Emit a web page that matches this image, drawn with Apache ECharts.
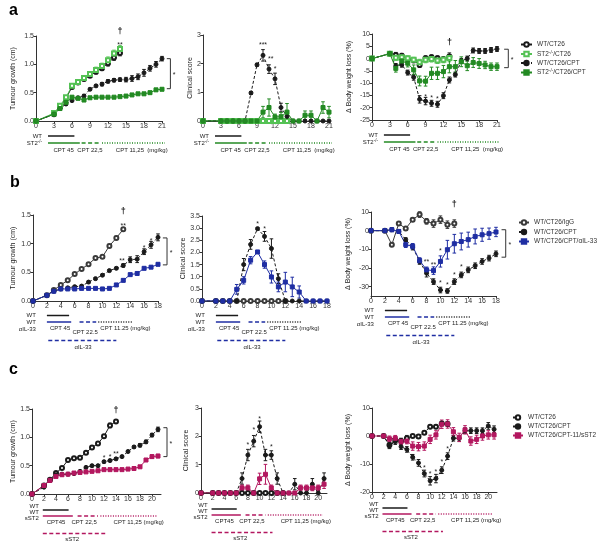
<!DOCTYPE html>
<html><head><meta charset="utf-8">
<script src="https://cdn.jsdelivr.net/npm/echarts@6/dist/echarts.min.js"></script>
<style>html,body{margin:0;padding:0;background:#fff}#c{width:600px;height:555px}</style>
</head><body><div id="c"></div><script>
const FONT = '"Liberation Sans", Arial, sans-serif';
const BLACK = '#1a1a1a', GREY = '#3a3a3a', LGREEN = '#55c255', DGREEN = '#238a23', BLUE = '#1f2ea3', MAG = '#b3175f';

// ---------- days ----------
const daysA = [0,3,4,5,6,7,8,9,10,11,12,13,14,15,16,17,18,19,20,21];
const daysB = [0,2,3,4,5,6,7,8,9,10,11,12,13,14,15,16,17,18];
const daysC = [0,2,3,4,5,6,7,8,9,10,11,12,13,14,15,16,17,18,19,20,21];

// ---------- panel a ----------
const a1_WT      = [0,0.12,0.25,0.4,0.6,0.68,0.74,0.8,0.87,0.93,1.02,1.12,1.2];
const a1_WT_e    = [0,0.02,0.02,0.03,0.03,0.03,0.03,0.03,0.04,0.04,0.05,0.05,0.05];
const a1_ST2     = [0,0.14,0.27,0.42,0.62,0.69,0.76,0.83,0.9,0.97,1.07,1.19,1.27];
const a1_ST2_e   = [0,0.02,0.02,0.03,0.04,0.04,0.04,0.04,0.05,0.05,0.06,0.06,0.06];
const a1_WTCPT   = [0,0.12,0.22,0.3,0.36,0.41,0.44,0.56,0.62,0.65,0.7,0.72,0.73,0.73,0.75,0.78,0.85,0.93,1.0,1.1];
const a1_WTCPT_e = [0,0.01,0.02,0.02,0.02,0.02,0.03,0.02,0.02,0.03,0.03,0.03,0.03,0.04,0.05,0.05,0.06,0.05,0.05,0.04];
const a1_ST2CPT  = [0,0.12,0.22,0.33,0.42,0.4,0.37,0.41,0.42,0.42,0.42,0.42,0.43,0.44,0.46,0.48,0.48,0.5,0.55,0.56];
const a1_ST2CPT_e= [0,0.01,0.01,0.02,0.02,0.02,0.02,0.02,0.02,0.01,0.01,0.01,0.01,0.02,0.02,0.02,0.02,0.02,0.02,0.02];

const a2_WT      = [0,0,0,0,0,0,0,0,0,0,0,0,0];
const a2_ST2     = [0,0,0,0,0,0,0,0,0,0,0,0,0];
const a2_WTCPT   = [0,0,0,0,0,0,0.98,1.96,2.29,1.81,1.47,0.47,0.16,0,0,0,0,0,0,0];
const a2_WTCPT_e = [0,0,0,0,0,0,0.05,0.05,0.2,0.15,0.2,0.15,0.1,0,0,0,0,0,0,0];
const a2_ST2CPT  = [0,0,0,0,0,0,0,0,0.31,0.47,0.14,0.15,0.31,0,0,0.2,0.2,0,0.47,0.31];
const a2_ST2CPT_e= [0,0,0,0,0,0,0,0,0.2,0.3,0.1,0.15,0.3,0,0,0.15,0.15,0,0.2,0.2];

const a3_WT      = [0,2,1.5,1.1,-0.3,-0.7,-2.6,0.1,0.5,0.1,-0.3,0.8];
const a3_WT_e    = [0,0.5,1,1,1,1,1,1,1,1,1,1.5];
const a3_ST2     = [0,2,0.3,0.5,0.1,-0.5,-1.5,-0.5,-0.2,-0.8,-0.5,0.2];
const a3_ST2_e   = [0,0.5,1,1,1,1,1.2,1.2,1.2,1.2,1.2,1.5];
const a3_WTCPT   = [0,2,-3,-2.5,-5.7,-7.6,-16.6,-17.3,-18.2,-18.6,-15.1,-8.7,-6.5,-1,0,3.3,3.1,3.1,3.5,3.9];
const a3_WTCPT_e = [0,0.5,1,1,1,1.2,1.5,1.5,1.2,1.2,1.2,1.2,1,1,1,1,1,1,1,1];
const a3_ST2CPT  = [0,2,-4,-1,-1.9,-4.6,-9.1,-9.2,-6,-6,-5.3,-3.3,-3.3,-1.3,-2.9,-1.6,-2,-2.6,-3.3,-3.3];
const a3_ST2CPT_e= [0,0.5,1.5,1.5,1.5,2,2,2,2.5,2.5,2.5,2.5,2.5,2,2,2,2,1.5,1.5,1.5];

// ---------- panel b ----------
const b1_IgG     = [0,0.1,0.19,0.28,0.36,0.47,0.56,0.64,0.75,0.77,0.96,1.1,1.25];
const b1_IgG_e   = [0,0.01,0.02,0.02,0.02,0.02,0.02,0.02,0.02,0.02,0.03,0.03,0.03];
const b1_CPT     = [0,0.1,0.17,0.21,0.23,0.25,0.26,0.33,0.39,0.45,0.53,0.57,0.62,0.72,0.73,0.86,0.98,1.11];
const b1_CPT_e   = [0,0.01,0.01,0.01,0.02,0.02,0.02,0.02,0.02,0.02,0.02,0.02,0.03,0.05,0.06,0.05,0.06,0.06];
const b1_IL33    = [0,0.1,0.17,0.21,0.21,0.21,0.22,0.22,0.22,0.21,0.22,0.28,0.36,0.46,0.48,0.57,0.59,0.64];
const b1_IL33_e  = [0,0.01,0.01,0.01,0.01,0.01,0.01,0.01,0.01,0.01,0.01,0.02,0.02,0.02,0.02,0.02,0.02,0.02];

const b2_IgG     = [0,0,0,0,0,0,0,0,0,0,0,0];
const b2_CPT     = [0,0,0,0,0,1.5,2.33,2.98,2.66,2.16,0.92,0,0,0,0,0,0,0];
const b2_CPT_e   = [0,0,0,0,0,0.25,0.2,0.05,0.2,0.4,0.2,0,0,0,0,0,0,0];
const b2_IL33    = [0,0,0,0,0.48,0.85,1.68,2.02,1.5,0.99,0.58,0.78,0.58,0.37,0,0,0,0];
const b2_IL33_e  = [0,0,0,0,0.2,0.15,0.15,0.05,0.15,0.25,0.2,0.4,0.4,0.25,0,0,0,0];

const b3_IgG     = [0,0,-7.5,3.8,1.1,5.9,8.6,5,3.8,5.9,3.2,3.8];
const b3_IgG_e   = [0,0,1,1,1,1,1.5,1.5,2,2,2,2];
const b3_CPT     = [0,0,0.5,-0.4,-4.8,-8.8,-16.5,-22.8,-27.3,-31.8,-32.3,-27.3,-23.7,-21,-18.8,-16.5,-14.7,-12.4];
const b3_CPT_e   = [0,0,1,1,1,1.5,1.5,2,1.5,1.5,1.2,1.5,1.5,1.5,1.5,1.5,1.5,1.5];
const b3_IL33    = [0,0,0.5,-0.4,-7.5,-8.4,-16,-21,-21.4,-16.5,-10.2,-7,-5.8,-4.8,-3.1,-2.2,-1.6,-0.7];
const b3_IL33_e  = [0,0,1,1,1.5,1.5,1.5,1.5,2,3,5,5,4.5,4,4,3.5,3,2.5];

// ---------- panel c ----------
const c1_WT      = [0,0.15,0.25,0.37,0.46,0.6,0.63,0.64,0.73,0.82,0.89,1.02,1.21,1.28];
const c1_WT_e    = [0,0.02,0.02,0.02,0.02,0.02,0.02,0.02,0.02,0.02,0.03,0.03,0.04,0.03];
const c1_CPT     = [0,0.12,0.24,0.34,0.35,0.35,0.36,0.4,0.47,0.5,0.5,0.57,0.59,0.62,0.66,0.75,0.83,0.86,0.92,1.04,1.14];
const c1_CPT_e   = [0,0.01,0.01,0.01,0.01,0.01,0.01,0.01,0.01,0.02,0.02,0.02,0.02,0.02,0.02,0.02,0.02,0.03,0.03,0.03,0.04];
const c1_sST2    = [0,0.15,0.24,0.31,0.34,0.35,0.37,0.38,0.39,0.4,0.41,0.43,0.43,0.43,0.43,0.44,0.45,0.48,0.6,0.66,0.67];
const c1_sST2_e  = [0,0.01,0.01,0.01,0.01,0.01,0.01,0.01,0.01,0.01,0.01,0.01,0.01,0.01,0.01,0.01,0.01,0.02,0.02,0.03,0.03];

const c2_WT      = [0,0,0,0,0,0,0,0,0,0,0,0,0,0];
const c2_CPT     = [0,0,0,0,0,0,0.51,1.34,1.83,2.34,1.34,1.34,0.51,0,0,0.31,0,0,0.31,0,0.51];
const c2_CPT_e   = [0,0,0,0,0,0,0.2,0.2,0.2,0.2,0.2,0.15,0.2,0,0,0.2,0,0,0.2,0,0.2];
const c2_sST2    = [0,0,0,0,0,0,0.18,0.18,0,0.5,0.66,0.18,0,0,0,0,0.18,0.18,0.18,0.18,0.31];
const c2_sST2_e  = [0,0,0,0,0,0,0.1,0.1,0,0.2,0.35,0.1,0,0,0,0,0.1,0.1,0.1,0.1,0.15];

const c3_WT      = [0,0,-3.2,-1.4,-1.8,-0.8,0,-0.2,1.2,3.3,3.3,4.5,4.3];
const c3_WT_e    = [0,0,1,1,1,1,0.5,0.5,0.5,0.5,0.5,0.5,0.8];
const c3_CPT     = [0,0,-3.5,-2,-3.8,-4.8,-7.6,-9.6,-13.4,-16,-15.2,-12.2,-7.2,-0.8,-0.8,1.9,1.9,1.9,1.9,3.6,2.4];
const c3_CPT_e   = [0,0,1,1,1,1,1,1.2,1.2,1.5,1.5,1.2,1.2,1,1,1,1,1,1,1.2,1.2];
const c3_sST2    = [0,0,-1,-0.8,-2,-1.8,-3.6,-3.8,-3.6,-1.2,0.4,4.2,4.3,1.5,-0.5,2.2,-1.8,-1.2,0,0.4,0.4];
const c3_sST2_e  = [0,0,1,1,1,1,1.5,1.5,1.5,1.5,1.5,1.5,1.5,1.5,1.5,1.5,1.5,1.5,1.5,1.5,1.5];

// ---------- ticks ----------
const xTicksA = [0,3,6,9,12,15,18,21];
const xTicksB = [0,2,4,6,8,10,12,14,16,18];
const xTicksC = [0,2,4,6,8,10,12,14,16,18,20];
const yTicksTumour = [0,0.5,1,1.5];
const yTicksScore3 = [0,1,2,3];
const yTicksScoreB = [0,0.5,1,1.5,2,2.5,3,3.5];
const yTicksBWA = [-25,-20,-15,-10,-5,0,5,10];
const yTicksBWB = [-30,-20,-10,0,10];
const yTicksBWC = [-20,-10,0,10];

// ---------- treatment schedules (days) ----------
const schedA_WT = [2, 6.4];
const schedA_KO = [[2,7.3],[7.6,10.8],[11,21.5]];
const schedA_dose = [['CPT 45',4.6],['CPT 22,5',9],['CPT 11,25  (mg/kg)',13.3]];
const schedB_WT = [2, 5.2];
const schedB_Ab = [[2,5.5],[6.7,9.1],[9.4,14.4]];
const schedB_dose = [['CPT 45',3.9],['CPT 22.5',7.5],['CPT 11.25 (mg/kg)',9.7]];
const schedB_IL33 = [2.2, 12, 7.2];
const schedC_WT = [1.8, 6.1];
const schedC_s = [[1.8,6.8],[7.6,11],[11.4,20.8]];
const schedC_dose = [['CPT45',4],['CPT 22,5',8.7],['CPT 11,25 (mg/kg)',13.6]];
const schedC_sST2 = [1.8, 12.2, 6.7];

// ---------- significance marks [day, value, text] ----------
const starsA1 = [[14,1.575,'†'],[14,1.38,'**']];
const starsA2 = [[10,2.71,'***'],[11.3,2.22,'**'],[12,1.89,'*']];
const starsA3 = [[13,6.5,'†'],[9,-14.8,'*'],[10,-15.5,'*'],[11,-15.8,'*']];
const starsB1 = [[13,1.56,'†'],[13,1.34,'**'],[12.8,0.73,'**'],[16,0.95,'*'],[17,1.08,'*']];
const starsB2 = [[8,3.25,'*'],[9,3.05,'*']];
const starsB3 = [[12,14,'†'],[10,-9.7,'*'],[8,-16,'**'],[9,-17.3,'**'],[10,-27.2,'*'],[11,-28.3,'*'],[12,-22.8,'*'],[13,-18.8,'*']];
const starsC1 = [[14,1.48,'†'],[12,0.66,'*'],[13,0.69,'*'],[14,0.73,'**']];
const starsC2 = [[8,1.75,'*'],[9,2.28,'*'],[10,2.69,'*'],[12,1.69,'*']];
const starsC3 = [[9,-10.7,'*'],[10,-12.8,'*'],[11,-12.2,'*'],[12,-8.7,'*'],[13,-4.2,'*']];
// brackets [dayFrom, dayTo, valueTop, valueBottom, starDay]
const brA1 = [21.8,22.4,1.1,0.57,22.8];
const brA3 = [22.2,22.9,3.8,-3.7,23.3];
const brB1 = [18.7,19.3,1.1,0.63,19.7];
const brB3 = [18.8,19.4,0.5,-14.2,19.8];
const brC1 = [21.9,22.5,1.17,0.66,22.9];

// ================= build =================
const grids = [
  {left:36, top:36, width:126, height:85},
  {left:203, top:35, width:126, height:86},
  {left:372, top:34, width:125, height:86},
  {left:33, top:215, width:125, height:86},
  {left:202, top:216, width:125, height:85},
  {left:371, top:212, width:125, height:84},
  {left:32, top:409, width:129, height:85},
  {left:201, top:408, width:126, height:85},
  {left:372, top:408, width:125, height:84}
];
const xCfg = [
  [21,xTicksA],[21,xTicksA],[21,xTicksA],
  [18,xTicksB],[18,xTicksB],[18,xTicksB],
  [21.5,xTicksC],[21.5,xTicksC],[21.5,xTicksC]
];
const TUM = 'Tumour growth (cm)', CLI = 'Clinical score', BW = 'Δ Body weight loss (%)';
const yCfg = [
  [0,1.5,yTicksTumour,1,TUM,19],[0,3,yTicksScore3,0,CLI,8],[-25,10,yTicksBWA,0,BW,19],
  [0,1.5,yTicksTumour,1,TUM,16],[0,3.5,yTicksScoreB,1,CLI,14],[-35,10,yTicksBWB,0,BW,19],
  [0,1.5,yTicksTumour,1,TUM,15],[0,3,yTicksScore3,0,CLI,11],[-20,10,yTicksBWC,0,BW,20]
];
const AX = '#333';
const xAxes = xCfg.map((c,i)=>({
  type:'value', gridIndex:i, min:0, max:c[0],
  axisLine:{show:true, onZero:false, lineStyle:{color:AX, width:1}},
  axisTick:{show:true, length:2.5, customValues:c[1], lineStyle:{color:AX}},
  axisLabel:{customValues:c[1], fontSize:7, fontFamily:FONT, color:'#333', margin:2},
  splitLine:{show:false}
}));
const yAxes = yCfg.map((c,i)=>({
  type:'value', gridIndex:i, min:c[0], max:c[1],
  name:c[4], nameLocation:'middle', nameGap:c[5],
  nameTextStyle:{fontSize:7, fontFamily:FONT, color:'#222'},
  axisLine:{show:true, onZero:false, lineStyle:{color:AX, width:1}},
  axisTick:{show:true, length:2.5, customValues:c[2], lineStyle:{color:AX}},
  axisLabel:{customValues:c[2], fontSize:7, fontFamily:FONT, color:'#333', margin:2,
    formatter: v => c[3] ? Number(v).toFixed(1) : String(Math.round(v))},
  splitLine:{show:false}
}));

function errRender(color){
  return function(params, api){
    const x = api.value(0), y = api.value(1), e = api.value(2);
    const p1 = api.coord([x, y + e]), p2 = api.coord([x, y - e]);
    const w = 1.8, st = {stroke:color, lineWidth:1};
    return {type:'group', children:[
      {type:'line', shape:{x1:p1[0],y1:p1[1],x2:p2[0],y2:p2[1]}, style:st},
      {type:'line', shape:{x1:p1[0]-w,y1:p1[1],x2:p1[0]+w,y2:p1[1]}, style:st},
      {type:'line', shape:{x1:p2[0]-w,y1:p2[1],x2:p2[0]+w,y2:p2[1]}, style:st}
    ]};
  };
}
const series = [];
let sid = 0;
function addLine(gi, name, days, vals, errs, color, symbol, dashed){
  const data = [];
  days.forEach((d,i)=>{ if (i < vals.length && vals[i] != null) data.push([d, vals[i]]); });
  series.push({
    type:'line', name: name || ('s' + (sid++)), xAxisIndex:gi, yAxisIndex:gi, data,
    symbol, symbolSize: 4,
    lineStyle:{color, width:1, type: dashed ? [3,2] : 'solid'},
    itemStyle:{color, borderColor:color, borderWidth:1},
    silent:true, z:3
  });
  if (errs) {
    const ed = [];
    days.forEach((d,i)=>{ if (i < vals.length && vals[i] != null && errs[i]) ed.push([d, vals[i], errs[i]]); });
    series.push({type:'custom', xAxisIndex:gi, yAxisIndex:gi, data:ed, renderItem:errRender(color),
      encode:{x:0, y:1}, silent:true, z:2});
  }
}
// panel a
addLine(0,null,daysA,a1_WT,a1_WT_e,BLACK,'emptyCircle',false);
addLine(0,null,daysA,a1_ST2,a1_ST2_e,LGREEN,'emptyRect',false);
addLine(0,null,daysA,a1_WTCPT,a1_WTCPT_e,BLACK,'circle',true);
addLine(0,null,daysA,a1_ST2CPT,a1_ST2CPT_e,DGREEN,'rect',false);
addLine(1,null,daysA,a2_WT,null,BLACK,'emptyCircle',false);
addLine(1,null,daysA,a2_ST2,null,LGREEN,'emptyRect',false);
addLine(1,null,daysA,a2_WTCPT,a2_WTCPT_e,BLACK,'circle',true);
addLine(1,null,daysA,a2_ST2CPT,a2_ST2CPT_e,DGREEN,'rect',false);
addLine(2,'a|WT/CT26',daysA,a3_WT,a3_WT_e,BLACK,'emptyCircle',false);
addLine(2,'a|ST2-/-/CT26',daysA,a3_ST2,a3_ST2_e,LGREEN,'emptyRect',false);
addLine(2,'a|WT/CT26/CPT',daysA,a3_WTCPT,a3_WTCPT_e,BLACK,'circle',true);
addLine(2,'a|ST2-/-/CT26/CPT',daysA,a3_ST2CPT,a3_ST2CPT_e,DGREEN,'rect',false);
// panel b
addLine(3,null,daysB,b1_IgG,b1_IgG_e,GREY,'emptyCircle',false);
addLine(3,null,daysB,b1_CPT,b1_CPT_e,BLACK,'circle',true);
addLine(3,null,daysB,b1_IL33,b1_IL33_e,BLUE,'rect',false);
addLine(4,null,daysB,b2_IgG,null,GREY,'emptyCircle',false);
addLine(4,null,daysB,b2_CPT,b2_CPT_e,BLACK,'circle',true);
addLine(4,null,daysB,b2_IL33,b2_IL33_e,BLUE,'rect',false);
addLine(5,'b|WT/CT26/IgG',daysB,b3_IgG,b3_IgG_e,GREY,'emptyCircle',false);
addLine(5,'b|WT/CT26/CPT',daysB,b3_CPT,b3_CPT_e,BLACK,'circle',true);
addLine(5,'b|WT/CT26/CPT/αIL-33',daysB,b3_IL33,b3_IL33_e,BLUE,'rect',false);
// panel c
addLine(6,null,daysC,c1_WT,c1_WT_e,BLACK,'emptyCircle',false);
addLine(6,null,daysC,c1_CPT,c1_CPT_e,BLACK,'circle',true);
addLine(6,null,daysC,c1_sST2,c1_sST2_e,MAG,'rect',false);
addLine(7,null,daysC,c2_WT,null,BLACK,'emptyCircle',false);
addLine(7,null,daysC,c2_CPT,c2_CPT_e,BLACK,'circle',true);
addLine(7,null,daysC,c2_sST2,c2_sST2_e,MAG,'rect',false);
addLine(8,'c|WT/CT26',daysC,c3_WT,c3_WT_e,BLACK,'emptyCircle',true);
addLine(8,'c|WT/CT26/CPT',daysC,c3_CPT,c3_CPT_e,BLACK,'circle',true);
addLine(8,'c|WT/CT26/CPT-11/sST2',daysC,c3_sST2,c3_sST2_e,MAG,'rect',false);

function fmtLegend(name){
  const t = name.split('|')[1];
  if (t.indexOf('-/-') >= 0) return '{n|' + t.replace('-/-', '}{s|-/-}{n|') + '}';
  return '{n|' + t + '}';
}
const legRich = {
  n:{fontSize:6.5, fontFamily:FONT, color:'#333', lineHeight:8},
  s:{fontSize:4.5, fontFamily:FONT, color:'#333', lineHeight:5, verticalAlign:'top'}
};
function mkLegend(names, left, top, w, gap){
  return {orient:'vertical', left, top, itemWidth:w, itemHeight:5.5, itemGap:gap, selectedMode:false,
    data:names, formatter:fmtLegend, textStyle:{fontSize:6.5, fontFamily:FONT, color:'#333', rich:legRich}};
}
const option = {
  animation:false, backgroundColor:'#fff',
  grid: grids, xAxis: xAxes, yAxis: yAxes, series,
  legend: [
    mkLegend(['a|WT/CT26','a|ST2-/-/CT26','a|WT/CT26/CPT','a|ST2-/-/CT26/CPT'], 515, 36, 11, 2),
    mkLegend(['b|WT/CT26/IgG','b|WT/CT26/CPT','b|WT/CT26/CPT/αIL-33'], 513, 214, 10, 2.5),
    mkLegend(['c|WT/CT26','c|WT/CT26/CPT','c|WT/CT26/CPT-11/sST2'], 507, 409, 10, 2)
  ]
};
const chart = echarts.init(document.getElementById('c'), null, {renderer:'canvas'});
chart.setOption(option);

// ---------- annotations ----------
const px = (gi, d) => chart.convertToPixel({xAxisIndex:gi}, d);
const py = (gi, v) => chart.convertToPixel({yAxisIndex:gi}, v);
const g = [];
function txt(x, y, s, size, align, valign, extra){
  const style = Object.assign({text:s, fill:'#222', fontSize:size, fontFamily:FONT, align, verticalAlign:valign}, extra||{});
  g.push({type:'text', x, y, style, silent:true, z:10});
}
function hline(x1, x2, y, color, dash, w){
  g.push({type:'line', shape:{x1, y1:y, x2, y2:y}, style:{stroke:color, lineWidth:w, lineDash:dash||null}, silent:true, z:10});
}
const SOLID = null, DASH = [4,2.5], DOT = [1,1.5];
const supRich = {
  n:{fontSize:6, fontFamily:FONT, fill:'#222', lineHeight:8},
  s:{fontSize:4.5, fontFamily:FONT, fill:'#222', lineHeight:5, verticalAlign:'top'}
};
function bottomOf(gi){ return py(gi, yCfg[gi][0]); }

[0,1,2].forEach(gi=>{
  const b = bottomOf(gi), xl = px(gi, schedA_WT[0]) - 6;
  txt(xl, b+15, 'WT', 6, 'right', 'middle');
  hline(px(gi,schedA_WT[0]), px(gi,schedA_WT[1]), b+15, BLACK, SOLID, 1.5);
  txt(xl, b+22, '{n|ST2}{s|-/-}', 6, 'right', 'middle', {rich:supRich});
  [SOLID, DASH, DOT].forEach((ds,k)=> hline(px(gi,schedA_KO[k][0]), px(gi,schedA_KO[k][1]), b+22, DGREEN, ds, 1.5));
  schedA_dose.forEach(([s,d],k)=> txt(px(gi,d), b+29.5, s, 6, k===2?'left':'center', 'middle'));
});
[3,4,5].forEach(gi=>{
  const b = bottomOf(gi), xl = px(gi, schedB_WT[0]) - 11;
  txt(xl, b+14.5, 'WT', 6, 'right', 'middle');
  hline(px(gi,schedB_WT[0]), px(gi,schedB_WT[1]), b+14.5, BLACK, SOLID, 1.5);
  txt(xl, b+21, 'WT', 6, 'right', 'middle');
  [[SOLID,BLUE],[DASH,BLUE],[DOT,BLACK]].forEach(([ds,col],k)=> hline(px(gi,schedB_Ab[k][0]), px(gi,schedB_Ab[k][1]), b+21, col, ds, 1.5));
  txt(xl, b+28.5, 'αIL-33', 6, 'right', 'middle');
  txt(px(gi,schedB_dose[0][1]), b+27.5, schedB_dose[0][0], 6, 'center', 'middle');
  txt(px(gi,schedB_dose[1][1]), b+31.5, schedB_dose[1][0], 6, 'center', 'middle');
  txt(px(gi,schedB_dose[2][1]), b+27, schedB_dose[2][0], 6, 'left', 'middle');
  hline(px(gi,schedB_IL33[0]), px(gi,schedB_IL33[1]), b+39.5, BLUE, DASH, 1.5);
  txt(px(gi,schedB_IL33[2]), b+46.5, 'αIL-33', 6, 'center', 'middle');
});
[6,7,8].forEach(gi=>{
  const b = bottomOf(gi), xl = px(gi, schedC_WT[0]) - 4;
  txt(xl, b+12.5, 'WT', 6, 'right', 'middle');
  hline(px(gi,schedC_WT[0]), px(gi,schedC_WT[1]), b+16, BLACK, SOLID, 1.5);
  txt(xl, b+18.5, 'WT', 6, 'right', 'middle');
  [SOLID, DASH, DOT].forEach((ds,k)=> hline(px(gi,schedC_s[k][0]), px(gi,schedC_s[k][1]), b+22, MAG, ds, 1.5));
  txt(xl, b+24.5, 'sST2', 6, 'right', 'middle');
  schedC_dose.forEach(([s,d],k)=> txt(px(gi,d), b+28.5, s, 6, k===2?'left':'center', 'middle'));
  hline(px(gi,schedC_sST2[0]), px(gi,schedC_sST2[1]), b+39.5, MAG, DASH, 1.5);
  txt(px(gi,schedC_sST2[2]), b+45.5, 'sST2', 6, 'center', 'middle');
});

function addStars(gi, list){
  list.forEach(([d,v,t])=>{
    const dag = t === '†';
    txt(px(gi,d), py(gi,v) + (dag ? 0 : 1.8), t, dag ? 9 : 7, 'center', 'middle', dag ? {fontWeight:'bold'} : null);
  });
}
addStars(0,starsA1); addStars(1,starsA2); addStars(2,starsA3);
addStars(3,starsB1); addStars(4,starsB2); addStars(5,starsB3);
addStars(6,starsC1); addStars(7,starsC2); addStars(8,starsC3);

function addBracket(gi, br){
  const x1 = px(gi,br[0]), x2 = px(gi,br[1]), y1 = py(gi,br[2]), y2 = py(gi,br[3]);
  g.push({type:'polyline', shape:{points:[[x1,y1],[x2,y1],[x2,y2],[x1,y2]]}, style:{stroke:'#333', lineWidth:1, fill:null}, silent:true, z:10});
  txt(px(gi,br[4]), (y1+y2)/2 + 1.8, '*', 7, 'left', 'middle');
}
addBracket(0,brA1); addBracket(2,brA3); addBracket(3,brB1); addBracket(5,brB3); addBracket(6,brC1);

// panel letters
txt(9, 10.5, 'a', 16, 'left', 'middle', {fontWeight:'bold', fill:'#000'});
txt(10, 182.5, 'b', 16, 'left', 'middle', {fontWeight:'bold', fill:'#000'});
txt(9, 370, 'c', 16, 'left', 'middle', {fontWeight:'bold', fill:'#000'});

chart.setOption({graphic: g});
</script></body></html>
